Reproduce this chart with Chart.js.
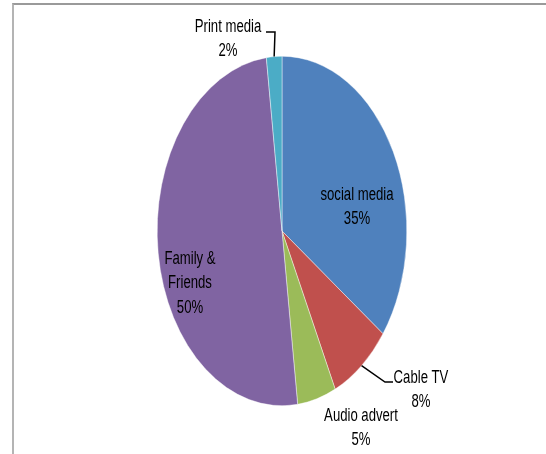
<!DOCTYPE html>
<html>
<head>
<meta charset="utf-8">
<script src="https://cdn.jsdelivr.net/npm/chart.js@4"></script>
<style>
    html, body { margin: 0; padding: 0; background: #fff; overflow: hidden; }
    #wrap { position: relative; width: 546px; height: 454px; }
    #frame {
        position: absolute; left: 12px; top: 3px; width: 600px; height: 500px;
        border-top: 2px solid #9a9a9a; border-left: 2px solid #b4b4b4;
    }
    canvas { position: absolute; left: 0; top: 0; }
</style>
</head>
<body>
<div id="wrap">
    <div id="frame"></div>
    <canvas id="pieChart" width="546" height="454"></canvas>
</div>
<script>
const categories = ['social media', 'Cable TV', 'Audio advert', 'Family & Friends', 'Print media'];
const shares = [35, 8, 5, 50, 2];
const sliceColors = ['#4F81BD', '#C0504D', '#9BBB59', '#8064A2', '#4BACC6'];

// how the labels sit, relative to the pie centre (Excel placed them by hand)
const labelLines = [['social media'], ['Cable TV'], ['Audio advert'], ['Family &', 'Friends'], ['Print media']];
const labelOffsets = [[75, -36], [139, 147], [79, 185], [-92, 28], [-54, -204]];
const leaderElbows = [null, [103, 151], null, null, [-7, -199]];
const leaderEnds = [null, [111, 151], null, null, [-16, -199]];

const SCALE_X = 125 / 175; // pie is stretched into an ellipse
const TEXT_SQUEEZE = 0.73; // narrow, Calibri-like lettering

const ellipsePlugin = {
    id: 'ellipse',
    beforeDatasetsDraw(chart) {
        const arc = chart.getDatasetMeta(0).data[0];
        const ctx = chart.ctx;
        ctx.save();
        ctx.translate(arc.x, arc.y);
        ctx.scale(SCALE_X, 1);
        ctx.translate(-arc.x, -arc.y);
    },
    afterDatasetsDraw(chart) {
        chart.ctx.restore();
    }
};

const labelPlugin = {
    id: 'sliceLabels',
    afterDraw(chart) {
        const ctx = chart.ctx;
        const arcs = chart.getDatasetMeta(0).data;
        const total = shares.reduce((a, b) => a + b, 0);
        arcs.forEach((arc, i) => {
            const cx = arc.x, cy = arc.y;
            const lines = labelLines[i].concat([Math.round(shares[i] / total * 100) + '%']);
            const lx = cx + labelOffsets[i][0];
            const top = cy + labelOffsets[i][1];

            ctx.save();
            ctx.font = '18px "Liberation Sans", Arial, sans-serif';
            ctx.fillStyle = '#000';
            ctx.textAlign = 'center';
            ctx.textBaseline = 'middle';
            ctx.translate(lx, 0);
            ctx.scale(TEXT_SQUEEZE, 1);
            lines.forEach((t, k) => ctx.fillText(t, 0, top + k * 24.5));
            ctx.restore();

            if (leaderElbows[i]) {
                const mid = (arc.startAngle + arc.endAngle) / 2;
                const px = cx + Math.cos(mid) * arc.outerRadius * SCALE_X;
                const py = cy + Math.sin(mid) * arc.outerRadius;
                ctx.save();
                ctx.beginPath();
                ctx.moveTo(px, py);
                ctx.lineTo(cx + leaderElbows[i][0], cy + leaderElbows[i][1]);
                ctx.lineTo(cx + leaderEnds[i][0], cy + leaderEnds[i][1]);
                ctx.strokeStyle = '#000';
                ctx.lineWidth = 1.5;
                ctx.stroke();
                ctx.restore();
            }
        });
    }
};

new Chart(document.getElementById('pieChart'), {
    type: 'pie',
    data: {
        labels: categories,
        datasets: [{
            data: shares,
            backgroundColor: sliceColors,
            borderColor: '#ffffff',
            borderWidth: 0.5
        }]
    },
    options: {
        responsive: false,
        animation: false,
        layout: { padding: { left: 107, right: 89, top: 56, bottom: 48 } },
        plugins: {
            legend: { display: false },
            tooltip: { enabled: false }
        }
    },
    plugins: [ellipsePlugin, labelPlugin]
});
</script>
</body>
</html>
